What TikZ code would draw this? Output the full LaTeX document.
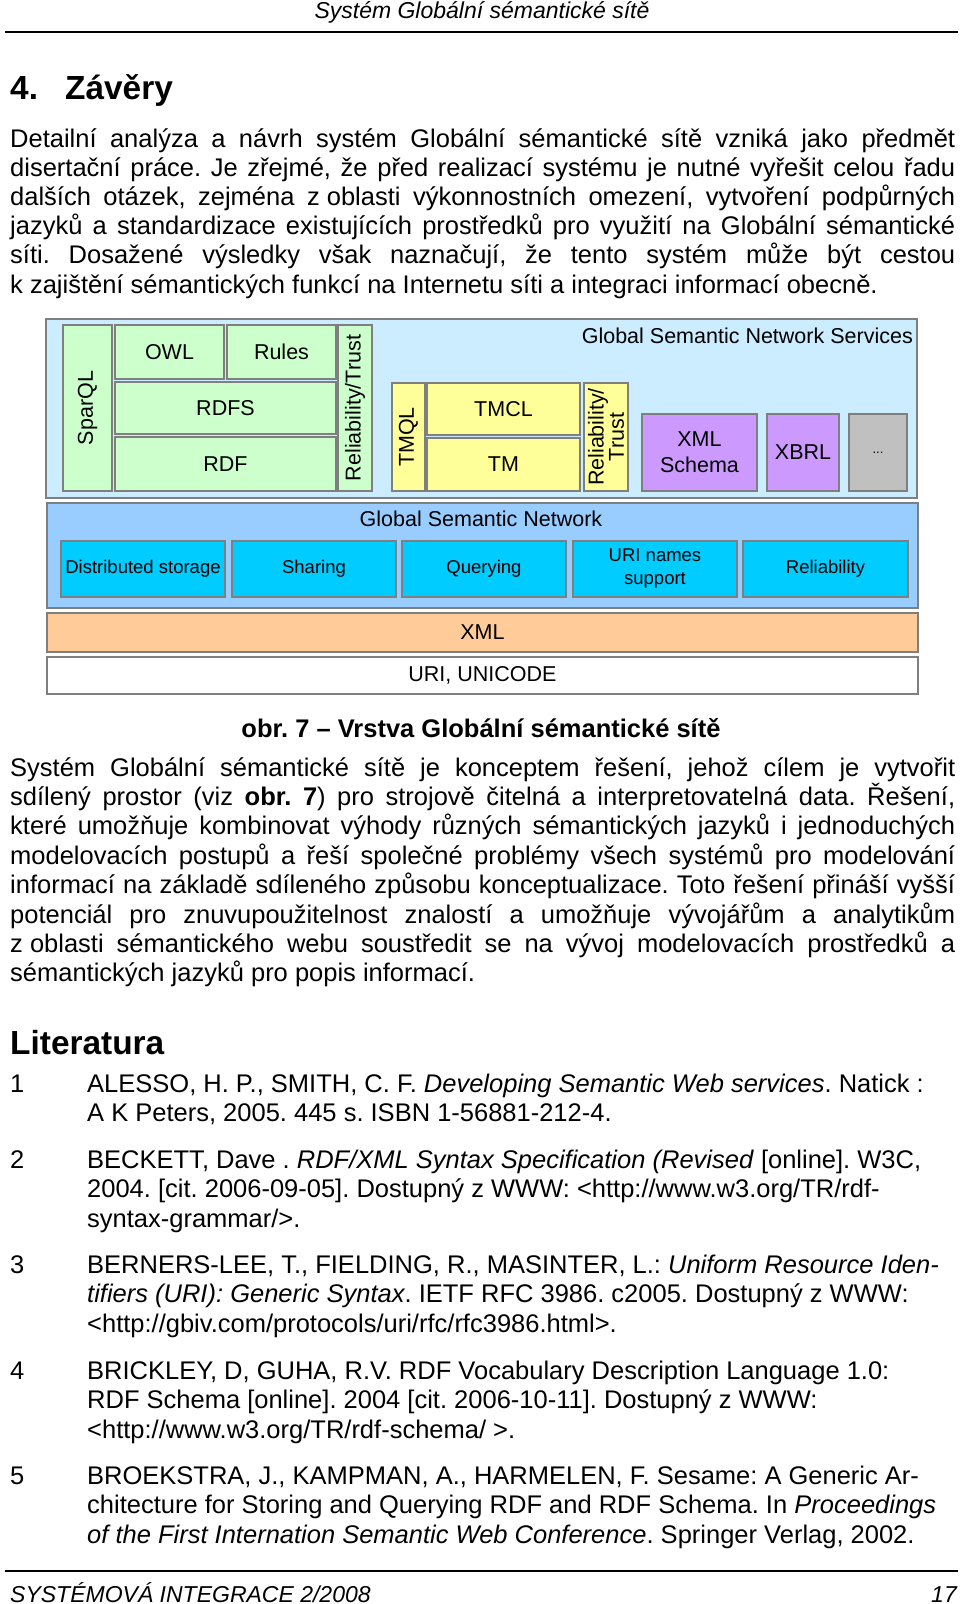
\documentclass[tikz,border=0pt]{standalone}
\usepackage{fontspec}
\setmainfont{Liberation Sans}
\definecolor{bandblue}{HTML}{CCECFF}
\definecolor{lgreen}{HTML}{CCFFCC}
\definecolor{lyellow}{HTML}{FFFF99}
\definecolor{lpurple}{HTML}{CC99FF}
\definecolor{lgray}{HTML}{C0C0C0}
\definecolor{gsnblue}{HTML}{99CCFF}
\definecolor{cyanbox}{HTML}{00CCFF}
\definecolor{lorange}{HTML}{FFCC99}
\definecolor{boxline}{HTML}{7F7F7F}
\newcommand{\bodyfs}{\fontsize{25.5}{29.3}\selectfont}
\newcommand{\headfs}{\fontsize{33.4}{38}\selectfont\bfseries}
\newcommand{\jl}[1]{\makebox[945pt][s]{#1}}
\frenchspacing
\begin{document}
\frenchspacing
\begin{tikzpicture}[x=1pt,y=-1pt,
  txt/.style={anchor=base west, inner sep=0pt, font=\bodyfs},
  box/.style={draw=boxline, line width=1.2pt, inner sep=0pt, align=center,
              font=\fontsize{21.5}{24}\selectfont},
  lbox/.style={box, font=\fontsize{18.5}{23}\selectfont},
  band/.style={box, minimum width=871pt}]
\useasboundingbox (0,0) rectangle (960,1604);
\fill[white] (0,0) rectangle (960,1604);

% header
\node[anchor=base, inner sep=0pt, font=\itshape\fontsize{23}{26}\selectfont] (hdr) at (482,18) {Systém Globální sémantické sítě};
\draw[line width=2.5pt] (5,32) -- (958,32);

\node[anchor=base west, inner sep=0pt, font=\headfs] (h4) at (10,99) {4.};
\node[anchor=base west, inner sep=0pt, font=\headfs] (h4b) at (65,99) {Závěry};

% paragraph 1
\node[txt] (p1a) at (10,147) {\jl{Detailní analýza a návrh systém Globální sémantické sítě vzniká jako předmět}};
\node[txt] (p1b) at (10,176.2) {\jl{disertační práce. Je zřejmé, že před realizací systému je nutné vyřešit celou řadu}};
\node[txt] (p1c) at (10,205.4) {\jl{dalších otázek, zejména \mbox{z oblasti} výkonnostních omezení, vytvoření podpůrných}};
\node[txt] (p1d) at (10,234.6) {\jl{jazyků a standardizace existujících prostředků pro využití na Globální sémantické}};
\node[txt] (p1e) at (10,263.8) {\jl{síti. Dosažené výsledky však naznačují, že tento systém může být cestou}};
\node[txt] (p1f) at (10,293) {k~zajištění sémantických funkcí na Internetu síti a integraci informací obecně.};

% diagram: top band
\node[box, fill=bandblue, minimum width=871pt, minimum height=179pt] (tb) at (481.5,408.5) {};
\node[anchor=base east, inner sep=0pt, font=\fontsize{21.5}{24}\selectfont] (gsns) at (913,343) {Global Semantic Network Services};
\node[box, fill=lgreen, rotate=90, minimum width=166pt, minimum height=49pt] (sparql) at (87.5,408) {SparQL};
\node[box, fill=lgreen, minimum width=109pt, minimum height=54pt] (owl) at (169.5,352) {OWL};
\node[box, fill=lgreen, minimum width=109pt, minimum height=54pt] (rules) at (281.5,352) {Rules};
\node[box, fill=lgreen, minimum width=221pt, minimum height=52pt] (rdfs) at (225.5,408) {RDFS};
\node[box, fill=lgreen, minimum width=221pt, minimum height=54pt] (rdf) at (225.5,464) {RDF};
\node[box, fill=lgreen, rotate=90, minimum width=166pt, minimum height=34pt] (rt1) at (355,408) {Reliability/Trust};
\node[box, fill=lyellow, rotate=90, minimum width=108pt, minimum height=33pt] (tmql) at (408.5,437) {TMQL};
\node[box, fill=lyellow, minimum width=153pt, minimum height=52pt] (tmcl) at (503.5,409) {TMCL};
\node[box, fill=lyellow, minimum width=153pt, minimum height=53pt] (tm) at (503.5,464.5) {TM};
\node[box, fill=lyellow, rotate=90, minimum width=108pt, minimum height=44pt, font=\fontsize{21.5}{19}\selectfont] (rt2) at (606,437) {Reliability/\\Trust};
\node[box, fill=lpurple, minimum width=115pt, minimum height=77pt, font=\fontsize{21.5}{26}\selectfont] (xsd) at (699.5,452.5) {XML\\Schema};
\node[box, fill=lpurple, minimum width=72pt, minimum height=77pt] (xbrl) at (803,452.5) {XBRL};
\node[box, fill=lgray, minimum width=58pt, minimum height=77pt, font=\fontsize{13}{15}\selectfont] (more) at (878,452.5) {...};

% Global Semantic Network band
\node[band, fill=gsnblue, minimum height=105pt] (gsn) at (482.5,555.5) {};
\node[anchor=base, inner sep=0pt, font=\fontsize{21.5}{24}\selectfont] (gsnt) at (481,526) {Global Semantic Network};
\node[lbox, fill=cyanbox, minimum width=164pt, minimum height=56pt] (ds) at (143,569) {Distributed storage};
\node[lbox, fill=cyanbox, minimum width=164pt, minimum height=56pt] (sh) at (314,569) {Sharing};
\node[lbox, fill=cyanbox, minimum width=164pt, minimum height=56pt] (qu) at (484,569) {Querying};
\node[lbox, fill=cyanbox, minimum width=164pt, minimum height=56pt] (uri) at (655,569) {URI names\\support};
\node[lbox, fill=cyanbox, minimum width=165pt, minimum height=56pt] (rel) at (825.5,569) {Reliability};
\node[band, fill=lorange, minimum height=39pt] (xml) at (482.5,632.5) {XML};
\node[band, fill=white, minimum height=37pt] (uni) at (482.5,675.5) {URI, UNICODE};

% caption
\node[anchor=base, inner sep=0pt, font=\bodyfs\bfseries] (cap) at (481,737) {obr. 7 -- Vrstva Globální sémantické sítě};

% paragraph 2
\node[txt] (p2a) at (10,776) {\jl{Systém Globální sémantické sítě je konceptem řešení, jehož cílem je vytvořit}};
\node[txt] (p2b) at (10,805.4) {\jl{sdílený prostor (viz \textbf{obr. 7}) pro strojově čitelná a interpretovatelná data. Řešení,}};
\node[txt] (p2c) at (10,834.8) {\jl{které umožňuje kombinovat výhody různých sémantických jazyků i jednoduchých}};
\node[txt] (p2d) at (10,864.2) {\jl{modelovacích postupů a řeší společné problémy všech systémů pro modelování}};
\node[txt] (p2e) at (10,893.6) {\jl{informací na základě sdíleného způsobu konceptualizace. Toto řešení přináší vyšší}};
\node[txt] (p2f) at (10,923) {\jl{potenciál pro znuvupoužitelnost znalostí a umožňuje vývojářům a analytikům}};
\node[txt] (p2g) at (10,952.4) {\jl{\mbox{z oblasti} sémantického webu soustředit se na vývoj modelovacích prostředků a}};
\node[txt] (p2h) at (10,981.8) {sémantických jazyků pro popis informací.};

% literature
\node[anchor=base west, inner sep=0pt, font=\headfs] (lit) at (10,1054) {Literatura};

\node[txt] (n1) at (10,1092) {1};
\node[txt] (r1a) at (87,1092) {ALESSO, H. P., SMITH, C. F. \textit{Developing Semantic Web services}. Natick :};
\node[txt] (r1b) at (87,1121.5) {A K Peters, 2005. 445 s. ISBN 1-56881-212-4.};

\node[txt] (n2) at (10,1168) {2};
\node[txt] (r2a) at (87,1168) {BECKETT, Dave . \textit{RDF/XML Syntax Specification (Revised} [online]. W3C,};
\node[txt] (r2b) at (87,1197.5) {2004. [cit. 2006-09-05]. Dostupný z WWW: <http://www.w3.org/TR/rdf-};
\node[txt] (r2c) at (87,1227) {syntax-grammar/>.};

\node[txt] (n3) at (10,1273) {3};
\node[txt] (r3a) at (87,1273) {BERNERS-LEE, T., FIELDING, R., MASINTER, L.: \textit{Uniform Resource Iden-}};
\node[txt] (r3b) at (87,1302.5) {\textit{tifiers (URI): Generic Syntax}. IETF RFC 3986. c2005. Dostupný z WWW:};
\node[txt] (r3c) at (87,1332) {<http://gbiv.com/protocols/uri/rfc/rfc3986.html>.};

\node[txt] (n4) at (10,1379) {4};
\node[txt] (r4a) at (87,1379) {BRICKLEY, D, GUHA, R.V. RDF Vocabulary Description Language 1.0:};
\node[txt] (r4b) at (87,1408.5) {RDF Schema [online]. 2004 [cit. 2006-10-11]. Dostupný z WWW:};
\node[txt] (r4c) at (87,1438) {<http://www.w3.org/TR/rdf-schema/ >.};

\node[txt] (n5) at (10,1484) {5};
\node[txt] (r5a) at (87,1484) {BROEKSTRA, J., KAMPMAN, A., HARMELEN, F. Sesame: A Generic Ar-};
\node[txt] (r5b) at (87,1513.5) {chitecture for Storing and Querying RDF and RDF Schema. In \textit{Proceedings}};
\node[txt] (r5c) at (87,1543) {\textit{of the First Internation Semantic Web Conference}. Springer Verlag, 2002.};

% footer
\draw[line width=2.5pt] (5,1571) -- (958,1571);
\node[anchor=base west, inner sep=0pt, font=\itshape\fontsize{23}{26}\selectfont] (ft) at (10,1602) {SYSTÉMOVÁ INTEGRACE 2/2008};
\node[anchor=base east, inner sep=0pt, font=\itshape\fontsize{23}{26}\selectfont] (pg) at (957,1602) {17};
\end{tikzpicture}
\end{document}
